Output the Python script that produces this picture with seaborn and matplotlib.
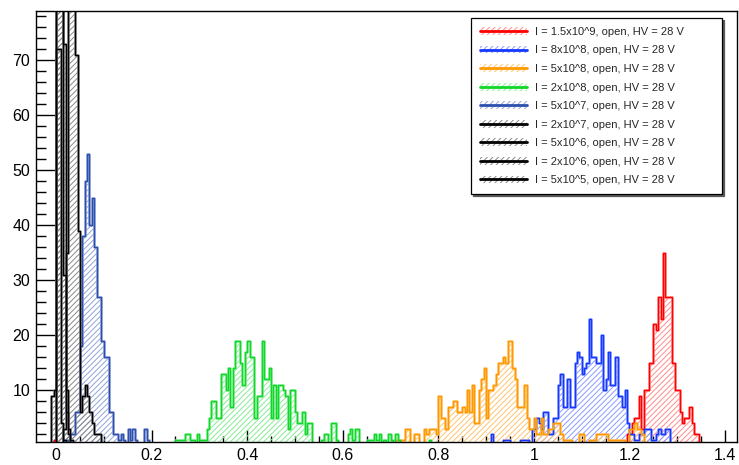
import numpy as np
import matplotlib
matplotlib.use("Agg")
import matplotlib.pyplot as plt
import seaborn as sns
from matplotlib.patches import Patch
from matplotlib.lines import Line2D
from matplotlib.ticker import MultipleLocator, FuncFormatter

# ---------------- data (bin width 0.005) ----------------
BIN_WIDTH = 0.005

labels = [
    "I = 1.5x10^9, open, HV = 28 V",
    "I = 8x10^8, open, HV = 28 V",
    "I = 5x10^8, open, HV = 28 V",
    "I = 2x10^8, open, HV = 28 V",
    "I = 5x10^7, open, HV = 28 V",
    "I = 2x10^7, open, HV = 28 V",
    "I = 5x10^6, open, HV = 28 V",
    "I = 2x10^6, open, HV = 28 V",
    "I = 5x10^5, open, HV = 28 V",
]

red_start = 1.195
red_counts = [2, 2, 4, 5, 5, 9, 3, 10, 10, 15, 15, 22, 21, 27, 23, 35, 27, 27, 27,
              15, 10, 10, 6, 4, 5, 5, 7, 4, 2, 2]
red_extra_start = -0.005
red_extra_counts = [1]

blue8_start = 0.91
blue8_counts = [2, 0, 0, 0, 0, 1, 1, 1, 0, 0, 0, 0, 1, 1, 1, 1, 0, 3, 3, 5, 4, 3, 6, 6,
                2, 2, 5, 5, 11, 13, 7, 7, 12, 7, 7, 15, 17, 16, 13, 14, 15, 23, 16, 16,
                15, 15, 20, 10, 12, 17, 11, 11, 16, 9, 9, 7, 10, 4, 2, 2, 1, 1, 2, 2,
                3, 3, 3, 1, 1, 2, 3, 2, 2, 3, 3]

orange_start = 0.71
orange_counts = [1, 1, 1, 1, 3, 3, 0, 0, 2, 2, 0, 0, 3, 2, 3, 3, 3, 2, 9, 5, 5, 3, 7, 7,
                 8, 8, 6, 6, 7, 6, 10, 6, 11, 4, 4, 10, 12, 14, 5, 10, 10, 11, 13, 15,
                 15, 16, 15, 19, 19, 14, 12, 7, 7, 7, 11, 5, 3, 3, 5, 2, 2, 5, 2, 2, 3,
                 3, 4, 4, 4, 2, 1, 1, 1, 1, 0, 0, 0, 2, 2, 0, 0, 1, 1, 1, 2, 2, 2, 2, 2,
                 1, 1, 1, 1, 1, 1, 1, 0, 0, 3, 3, 4, 3, 3, 2]

green_start = 0.25
green_counts = [1, 1,
                1, 1, 2, 2, 1, 1, 0, 2, 1, 1, 1, 3, 5, 8, 8, 5, 5, 13, 13, 10, 14, 7,
                14, 19, 19, 15, 11, 17, 19, 16, 16, 5, 9, 9, 19, 12, 12, 14, 5, 11, 5,
                11, 11, 10, 9, 3, 10, 10, 6, 4, 4, 6, 2, 4, 4, 0, 0, 0, 0, 1, 2, 2, 0,
                4, 4, 1, 0, 0, 0, 0, 2, 3, 1, 3, 3, 0, 0, 0, 1, 1, 1, 2, 1, 2,
                0, 1, 0, 2, 1, 0, 2, 1, 0, 0, 0, 0, 0, 0, 0, 0, 0, 0, 0, 0, 1]

blue5_start = 0.015
blue5_counts = [1, 1, 0, 2, 2, 6, 6, 18, 38, 48, 53, 40, 45, 36, 27, 27, 19, 16, 16, 6,
                6, 2, 2, 1, 2, 1, 0, 3, 1, 3, 1, 0, 0, 0, 3, 1]

black2e7_start = 0.015
black2e7_counts = [3, 35, 180, 170, 150, 71, 39, 6, 9, 11, 9, 6, 4, 2, 2, 2]

black5e6_start = 0.000
black5e6_counts = [100, 170, 170, 73, 10, 3, 1]

black2e6_start = 0.000
black2e6_counts = [160, 180, 150, 31, 6, 2]

black5e5_start = -0.010
black5e5_counts = [9, 10, 72, 72, 4, 1]

line_colors = ["#ff0000", "#1438ff", "#ff9900", "#10d82a", "#2d4fae",
               "#000000", "#000000", "#000000", "#000000"]
hatch_colors = ["#ff8c8c", "#8a9cff", "#ffc46e", "#86ec94", "#92a4d8",
                "#8a8a8a", "#8a8a8a", "#8a8a8a", "#8a8a8a"]

series = [
    [(red_start, red_counts), (red_extra_start, red_extra_counts)],
    [(blue8_start, blue8_counts)],
    [(orange_start, orange_counts)],
    [(green_start, green_counts)],
    [(blue5_start, blue5_counts)],
    [(black2e7_start, black2e7_counts)],
    [(black5e6_start, black5e6_counts)],
    [(black2e6_start, black2e6_counts)],
    [(black5e5_start, black5e5_counts)],
]

# ---------------- style ----------------
sns.set_theme(style="white")
plt.rcParams["font.family"] = ["Liberation Sans", "DejaVu Sans"]
plt.rcParams["hatch.linewidth"] = 0.7

W, H = 739, 465
fig = plt.figure(figsize=(W / 100, H / 100), dpi=100)
ax_l, ax_r, ax_t, ax_b = 35.7, 737.0, 10.7, 442.3
ax = fig.add_axes([ax_l / W, 1 - ax_b / H, (ax_r - ax_l) / W, (ax_b - ax_t) / H])

HATCH = "//////"


def draw_hist(start, counts, color, hcolor):
    counts = np.array([0] + list(counts) + [0], dtype=float)
    lo = start - BIN_WIDTH
    n = len(counts)
    hi = lo + BIN_WIDTH * n
    centers = lo + BIN_WIDTH * (np.arange(n) + 0.5)
    sns.histplot(x=centers, weights=counts, bins=n, binrange=(lo, hi),
                 element="step", fill=True, color=hcolor, hatch=HATCH,
                 facecolor="none", edgecolor=hcolor, linewidth=1.8, ax=ax)
    sns.histplot(x=centers, weights=counts, bins=n, binrange=(lo, hi),
                 element="step", fill=False, color=color, linewidth=1.0, ax=ax)


for parts, c, hc in zip(series, line_colors, hatch_colors):
    for start, counts in parts:
        draw_hist(start, counts, c, hc)

ax.set_xlim(-0.0425, 1.425)
ax.set_ylim(0.5, 79)
ax.set_xlabel("")
ax.set_ylabel("")

ax.xaxis.set_major_locator(MultipleLocator(0.2))
ax.xaxis.set_minor_locator(MultipleLocator(0.05))
ax.yaxis.set_major_locator(MultipleLocator(10))
ax.yaxis.set_minor_locator(MultipleLocator(2))
ax.xaxis.set_major_formatter(FuncFormatter(lambda v, p: f"{v:g}"))

ax.tick_params(which="both", direction="in", top=False, right=False,
               bottom=True, left=True, colors="black", labelsize=11.5)
ax.tick_params(axis="y", which="major", length=13.5, width=1.0, pad=4)
ax.tick_params(axis="y", which="minor", length=7, width=1.0)
ax.tick_params(axis="x", which="major", length=9, width=1.0, pad=4)
ax.tick_params(axis="x", which="minor", length=4, width=1.0)
for s in ax.spines.values():
    s.set_color("black")
    s.set_linewidth(1.0)
    s.set_visible(True)

handles = [(Patch(facecolor="none", edgecolor=hc, hatch=HATCH, linewidth=0),
            Line2D([0], [0], color=c, lw=2.0))
           for c, hc in zip(line_colors, hatch_colors)]
x0 = (471 - ax_l) / (ax_r - ax_l)
x1 = (722 - ax_l) / (ax_r - ax_l)
ytop = (ax_b - 18) / (ax_b - ax_t)
leg = ax.legend(handles, labels, loc="upper left",
                bbox_to_anchor=(x0, 0.4, x1 - x0, ytop - 0.4), mode="expand",
                borderaxespad=0, fontsize=8, handlelength=4.2, handleheight=0.7,
                handletextpad=0.8, labelspacing=0.77, borderpad=0.8,
                fancybox=False, framealpha=1, facecolor="white",
                edgecolor="black",
                shadow={"ox": 1.5, "oy": -1.5, "color": "0.35", "alpha": 1.0})
leg.get_frame().set_linewidth(0.9)

fig.savefig("out.png", dpi=100)
